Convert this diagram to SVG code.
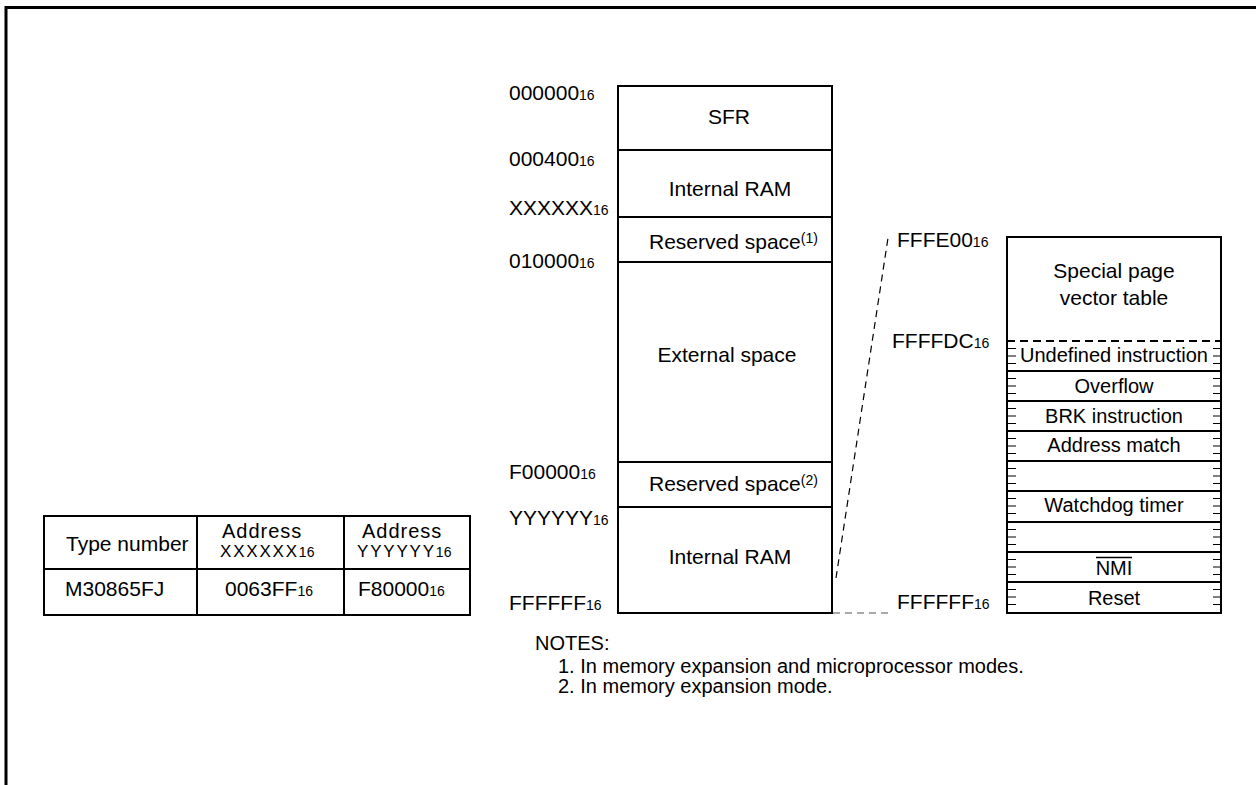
<svg xmlns="http://www.w3.org/2000/svg" width="1256" height="785" viewBox="0 0 1256 785">
<style>
text{font-family:"Liberation Sans",Arial,sans-serif;fill:#000}
.lbl{font-size:21px}
.c{text-anchor:middle}
.sub{font-size:14px}
.vt{font-size:20px;text-anchor:middle}
.note{font-size:20px}
.box{fill:#fff;stroke:#000;stroke-width:2}
.ln{stroke:#000;stroke-width:2;fill:none}
.tk{stroke:#000;stroke-width:1;fill:none}
.dash{stroke:#000;stroke-width:1.2;fill:none;stroke-dasharray:7 5}
.hd{font-size:20px;letter-spacing:1px}
.hx{font-size:17px;letter-spacing:1.8px}
</style>
<defs>
<g id="ticks">
<line class="tk" x1="1008" y1="7.5" x2="1016" y2="7.5"/>
<line class="tk" x1="1008" y1="15" x2="1016" y2="15"/>
<line class="tk" x1="1008" y1="22.5" x2="1016" y2="22.5"/>
<line class="tk" x1="1213" y1="7.5" x2="1220" y2="7.5"/>
<line class="tk" x1="1213" y1="15" x2="1220" y2="15"/>
<line class="tk" x1="1213" y1="22.5" x2="1220" y2="22.5"/>
</g>
</defs>
<rect width="1256" height="785" fill="#fff"/>
<path d="M6,785 L6,7.5 L1256,7.5" fill="none" stroke="#000" stroke-width="3"/>

<g id="memory-map">
<rect class="box" x="618" y="86" width="214" height="527"/>
<line class="ln" x1="618" y1="150" x2="832" y2="150"/>
<line class="ln" x1="618" y1="217" x2="832" y2="217"/>
<line class="ln" x1="618" y1="262" x2="832" y2="262"/>
<line class="ln" x1="618" y1="462" x2="832" y2="462"/>
<line class="ln" x1="618" y1="507" x2="832" y2="507"/>
</g>
<g id="sfr"><text class="lbl c" x="729" y="124">SFR</text></g>
<g id="internal-ram-1"><text class="lbl c" x="730" y="196">Internal RAM</text></g>
<g id="reserved-1"><text class="lbl" x="649" y="249">Reserved space<tspan class="sub" dy="-6">(1)</tspan></text></g>
<g id="external"><text class="lbl c" x="727" y="362">External space</text></g>
<g id="reserved-2"><text class="lbl" x="649" y="491">Reserved space<tspan class="sub" dy="-6">(2)</tspan></text></g>
<g id="internal-ram-2"><text class="lbl c" x="730" y="564">Internal RAM</text></g>

<g id="addr-labels">
<text class="lbl" x="509" y="100">000000<tspan class="sub">16</tspan></text>
<text class="lbl" x="509" y="166">000400<tspan class="sub">16</tspan></text>
<text class="lbl" x="509" y="215">XXXXXX<tspan class="sub">16</tspan></text>
<text class="lbl" x="509" y="268">010000<tspan class="sub">16</tspan></text>
<text class="lbl" x="509" y="479">F00000<tspan class="sub">16</tspan></text>
<text class="lbl" x="509" y="525">YYYYYY<tspan class="sub">16</tspan></text>
<text class="lbl" x="509" y="610">FFFFFF<tspan class="sub">16</tspan></text>
</g>

<g id="vector-table">
<rect class="box" x="1007" y="237" width="214" height="376"/>
<text class="lbl c" x="1114" y="278">Special page</text>
<text class="lbl c" x="1114" y="305">vector table</text>
<line x1="1007" y1="341" x2="1221" y2="341" stroke="#000" stroke-width="2" stroke-dasharray="8 5"/>
<line class="ln" x1="1007" y1="371" x2="1221" y2="371"/>
<line class="ln" x1="1007" y1="401" x2="1221" y2="401"/>
<line class="ln" x1="1007" y1="431" x2="1221" y2="431"/>
<line class="ln" x1="1007" y1="461" x2="1221" y2="461"/>
<line class="ln" x1="1007" y1="491" x2="1221" y2="491"/>
<line class="ln" x1="1007" y1="522" x2="1221" y2="522"/>
<line class="ln" x1="1007" y1="552" x2="1221" y2="552"/>
<line class="ln" x1="1007" y1="582" x2="1221" y2="582"/>
<use href="#ticks" y="341"/>
<use href="#ticks" y="371"/>
<use href="#ticks" y="401"/>
<use href="#ticks" y="431"/>
<use href="#ticks" y="461"/>
<use href="#ticks" y="491"/>
<use href="#ticks" y="522"/>
<use href="#ticks" y="552"/>
<use href="#ticks" y="582"/>
</g>
<g id="v-undef"><text class="vt" x="1114" y="362">Undefined instruction</text></g>
<g id="v-overflow"><text class="vt" x="1114" y="393">Overflow</text></g>
<g id="v-brk"><text class="vt" x="1114" y="423">BRK instruction</text></g>
<g id="v-addr"><text class="vt" x="1114" y="452">Address match</text></g>
<g id="v-wdt"><text class="vt" x="1114" y="512">Watchdog timer</text></g>
<g id="v-nmi"><text class="vt" x="1114" y="575">NMI</text><line x1="1096" y1="557.5" x2="1132" y2="557.5" stroke="#000" stroke-width="1.5"/></g>
<g id="v-reset"><text class="vt" x="1114" y="605">Reset</text></g>

<g id="vt-labels">
<text class="lbl" x="897" y="247">FFFE00<tspan class="sub">16</tspan></text>
<text class="lbl" x="892" y="348">FFFFDC<tspan class="sub">16</tspan></text>
<text class="lbl" x="897" y="609">FFFFFF<tspan class="sub">16</tspan></text>
</g>

<g id="connectors">
<line class="dash" x1="836" y1="578" x2="888" y2="238"/>
<line x1="833" y1="613" x2="892" y2="613" stroke="#555" stroke-width="1.2" stroke-dasharray="7 5"/>
</g>

<g id="type-table">
<rect class="box" x="44" y="516" width="426" height="99"/>
<line class="ln" x1="44" y1="569" x2="470" y2="569"/>
<line class="ln" x1="197" y1="516" x2="197" y2="615"/>
<line class="ln" x1="344" y1="516" x2="344" y2="615"/>
<text class="lbl" x="66" y="551">Type number</text>
<text class="hd" x="222" y="538">Address</text>
<text class="hx" x="220" y="557">XXXXXX<tspan class="sub" letter-spacing="0">16</tspan></text>
<text class="hd" x="362" y="538">Address</text>
<text class="hx" x="357" y="557">YYYYYY<tspan class="sub" letter-spacing="0">16</tspan></text>
<text class="lbl" x="65" y="596">M30865FJ</text>
<text class="lbl" x="225" y="596">0063FF<tspan class="sub">16</tspan></text>
<text class="lbl" x="358" y="596">F80000<tspan class="sub">16</tspan></text>
</g>

<g id="notes">
<text class="note" x="535" y="650">NOTES:</text>
<text class="note" x="558" y="673">1. In memory expansion and microprocessor modes.</text>
<text class="note" x="558" y="693">2. In memory expansion mode.</text>
</g>
</svg>
